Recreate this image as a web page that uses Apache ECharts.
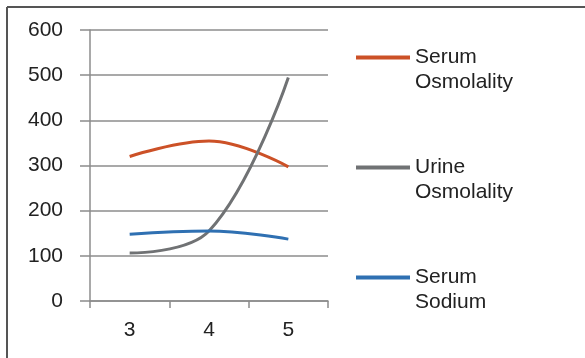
<!DOCTYPE html>
<html><head><meta charset="utf-8">
<script src="https://cdn.jsdelivr.net/npm/echarts@6/dist/echarts.min.js"></script>
<style>html,body{margin:0;padding:0;background:#fff}#c{width:585px;height:358px}</style>
</head><body><div id="c"></div>
<script>
var categories = ['3', '4', '5'];
var serumOsmolality = [320, 354, 297];
var urineOsmolality = [106, 155, 495];
var serumSodium = [148, 155, 137];
var seriesNames = ['Serum\nOsmolality', 'Urine\nOsmolality', 'Serum\nSodium'];

var chart = echarts.init(document.getElementById('c'));
var font = 'Liberation Sans, Arial, sans-serif';
chart.setOption({
  animation: false,
  textStyle: { fontFamily: font },
  grid: { left: 90, right: 257, top: 30, bottom: 57 },
  graphic: [
    { type: 'line', shape: { x1: 7, y1: 7, x2: 585, y2: 7 }, style: { stroke: '#555', lineWidth: 2 } },
    { type: 'line', shape: { x1: 7, y1: 7, x2: 7, y2: 358 }, style: { stroke: '#555', lineWidth: 2 } }
  ],
  xAxis: {
    type: 'category', data: categories, boundaryGap: true,
    axisLine: { lineStyle: { color: '#8c8c8c', width: 1.5 } },
    axisTick: { show: true, length: 7, lineStyle: { color: '#8c8c8c', width: 1.5 } },
    axisLabel: { color: '#222', fontSize: 21, margin: 19, fontFamily: font }
  },
  yAxis: {
    type: 'value', min: 0, max: 600, interval: 100,
    axisLine: { show: true, lineStyle: { color: '#8c8c8c', width: 1.5 } },
    axisTick: { show: true, length: 10, lineStyle: { color: '#8c8c8c', width: 1.5 } },
    axisLabel: { color: '#222', fontSize: 21, margin: 27, fontFamily: font },
    splitLine: { lineStyle: { color: '#8c8c8c', width: 1.5 } }
  },
  legend: {
    orient: 'vertical', left: 351, top: 15,
    itemWidth: 54, itemHeight: 4, itemGap: 35,
    icon: 'rect',
    data: seriesNames,
    formatter: function (name) { return ' \n' + name; },
    textStyle: { color: '#222', fontSize: 21, lineHeight: 25, fontFamily: font }
  },
  series: [
    { name: seriesNames[0], type: 'line', data: serumOsmolality, smooth: 0.4, symbol: 'none', lineStyle: { color: '#cc5127', width: 3 }, itemStyle: { color: '#cc5127' } },
    { name: seriesNames[1], type: 'line', data: urineOsmolality, smooth: 0.4, symbol: 'none', lineStyle: { color: '#707274', width: 3 }, itemStyle: { color: '#707274' } },
    { name: seriesNames[2], type: 'line', data: serumSodium, smooth: 0.4, symbol: 'none', lineStyle: { color: '#2f70b2', width: 3 }, itemStyle: { color: '#2f70b2' } }
  ]
});
</script></body></html>
